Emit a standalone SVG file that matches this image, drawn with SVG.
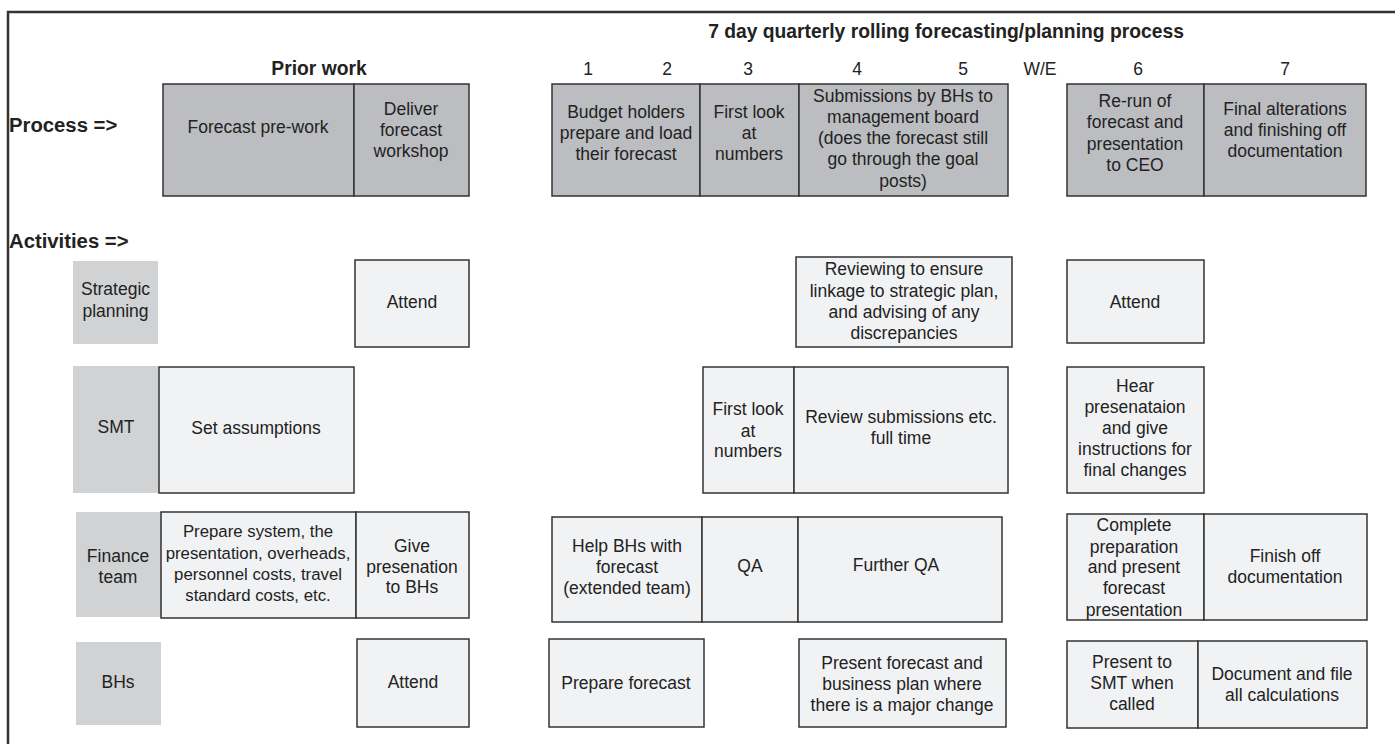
<svg xmlns="http://www.w3.org/2000/svg" width="1395" height="744" viewBox="0 0 1395 744">
<style>
text{font-family:"Liberation Sans",Arial,sans-serif;fill:#222;text-anchor:middle;font-size:17.5px}
.b{font-weight:bold;font-size:19.3px}
.bl{font-weight:bold;font-size:20.3px;text-anchor:start}
.s{font-size:16.8px}
.p{fill:#bcbdc0;stroke:#333;stroke-width:1.5}
.r{fill:#d1d2d4;stroke:none}
.a{fill:#f1f2f4;stroke:#333;stroke-width:1.5}
.frame{stroke:#333;stroke-width:2.5;fill:none}
</style>
<rect width="1395" height="744" fill="#fff"/>
<path class="frame" d="M8,744 V12 H1395"/>
<g id="headers">
<text class="b" x="946" y="38">7 day quarterly rolling forecasting/planning process</text>
<text class="b" x="319" y="75">Prior work</text>
<text class="bl" x="9" y="132">Process =&gt;</text>
<text class="bl" x="9" y="248">Activities =&gt;</text>
<text x="588" y="75">1</text>
<text x="667" y="75">2</text>
<text x="748" y="75">3</text>
<text x="857" y="75">4</text>
<text x="963" y="75">5</text>
<text x="1040" y="75">W/E</text>
<text x="1138" y="75">6</text>
<text x="1285" y="75">7</text>
</g>
<g id="connectors"></g>
<g id="p1"><rect class="p" x="163" y="84" width="191" height="112"/><text x="258" y="133">Forecast pre-work</text></g>
<g id="p2"><rect class="p" x="354" y="84" width="115" height="112"/><text x="411" y="115">Deliver</text><text x="411" y="136">forecast</text><text x="411" y="157">workshop</text></g>
<g id="p3"><rect class="p" x="552" y="84" width="148" height="112"/><text x="626" y="118">Budget holders</text><text x="626" y="139">prepare and load</text><text x="626" y="160">their forecast</text></g>
<g id="p4"><rect class="p" x="700" y="84" width="99" height="112"/><text x="749" y="118">First look</text><text x="749" y="139">at</text><text x="749" y="160">numbers</text></g>
<g id="p5"><rect class="p" x="799" y="84" width="209" height="112"/><text x="903" y="102">Submissions by BHs to</text><text x="903" y="123">management board</text><text x="903" y="144">(does the forecast still</text><text x="903" y="165">go through the goal</text><text x="903" y="187">posts)</text></g>
<g id="p6"><rect class="p" x="1067" y="84" width="137" height="112"/><text x="1135" y="107">Re-run of</text><text x="1135" y="128">forecast and</text><text x="1135" y="150">presentation</text><text x="1135" y="171">to CEO</text></g>
<g id="p7"><rect class="p" x="1204" y="84" width="162" height="112"/><text x="1285" y="115">Final alterations</text><text x="1285" y="136">and finishing off</text><text x="1285" y="157">documentation</text></g>

<g id="lab-sp"><rect class="r" x="73" y="261" width="85" height="83"/><text x="115.5" y="295">Strategic</text><text x="115.5" y="317">planning</text></g>
<g id="lab-smt"><rect class="r" x="73" y="366" width="86" height="127"/><text x="116" y="433">SMT</text></g>
<g id="lab-fin"><rect class="r" x="76" y="512" width="85" height="105"/><text x="118" y="562">Finance</text><text x="118" y="583">team</text></g>
<g id="lab-bh"><rect class="r" x="76" y="642" width="85" height="83"/><text x="118" y="688">BHs</text></g>

<g id="sp1"><rect class="a" x="355" y="260" width="114" height="87"/><text x="412" y="308">Attend</text></g>
<g id="sp2"><rect class="a" x="796" y="257" width="216" height="90"/><text x="904" y="275">Reviewing to ensure</text><text x="904" y="297">linkage to strategic plan,</text><text x="904" y="318">and advising of any</text><text x="904" y="339">discrepancies</text></g>
<g id="sp3"><rect class="a" x="1067" y="260" width="137" height="83"/><text x="1135" y="308">Attend</text></g>

<g id="smt1"><rect class="a" x="159" y="367" width="195" height="126"/><text x="256" y="434">Set assumptions</text></g>
<g id="smt2"><rect class="a" x="703" y="367" width="91" height="126"/><text x="748" y="415">First look</text><text x="748" y="437">at</text><text x="748" y="457">numbers</text></g>
<g id="smt3"><rect class="a" x="794" y="367" width="214" height="126"/><text x="901" y="423">Review submissions etc.</text><text x="901" y="444">full time</text></g>
<g id="smt4"><rect class="a" x="1067" y="367" width="137" height="126"/><text x="1135" y="392">Hear</text><text x="1135" y="413">presenataion</text><text x="1135" y="434">and give</text><text x="1135" y="455">instructions for</text><text x="1135" y="476">final changes</text></g>

<g id="fin1"><rect class="a" x="161" y="512" width="195" height="106"/><text class="s" x="258" y="537">Prepare system, the</text><text class="s" x="258" y="559">presentation, overheads,</text><text class="s" x="258" y="580">personnel costs, travel</text><text class="s" x="258" y="601">standard costs, etc.</text></g>
<g id="fin2"><rect class="a" x="356" y="512" width="113" height="106"/><text x="412" y="552">Give</text><text x="412" y="573">presenation</text><text x="412" y="593">to BHs</text></g>
<g id="fin3"><rect class="a" x="552" y="517" width="150" height="105"/><text x="627" y="552">Help BHs with</text><text x="627" y="573">forecast</text><text x="627" y="594">(extended team)</text></g>
<g id="fin4"><rect class="a" x="702" y="517" width="96" height="105"/><text x="750" y="572">QA</text></g>
<g id="fin5"><rect class="a" x="798" y="517" width="204" height="105"/><text x="896" y="571">Further QA</text></g>
<g id="fin6"><rect class="a" x="1067" y="514" width="137" height="106"/><text x="1134" y="531">Complete</text><text x="1134" y="553">preparation</text><text x="1134" y="573">and present</text><text x="1134" y="594">forecast</text><text x="1134" y="616">presentation</text></g>
<g id="fin7"><rect class="a" x="1204" y="514" width="163" height="106"/><text x="1285" y="562">Finish off</text><text x="1285" y="583">documentation</text></g>

<g id="bh1"><rect class="a" x="357" y="639" width="112" height="88"/><text x="413" y="688">Attend</text></g>
<g id="bh2"><rect class="a" x="549" y="639" width="155" height="88"/><text x="626" y="689">Prepare forecast</text></g>
<g id="bh3"><rect class="a" x="799" y="639" width="207" height="88"/><text x="902" y="669">Present forecast and</text><text x="902" y="690">business plan where</text><text x="902" y="711">there is a major change</text></g>
<g id="bh4"><rect class="a" x="1067" y="641" width="131" height="87"/><text x="1132" y="668">Present to</text><text x="1132" y="689">SMT when</text><text x="1132" y="710">called</text></g>
<g id="bh5"><rect class="a" x="1198" y="641" width="169" height="87"/><text x="1282" y="680">Document and file</text><text x="1282" y="701">all calculations</text></g>
</svg>
